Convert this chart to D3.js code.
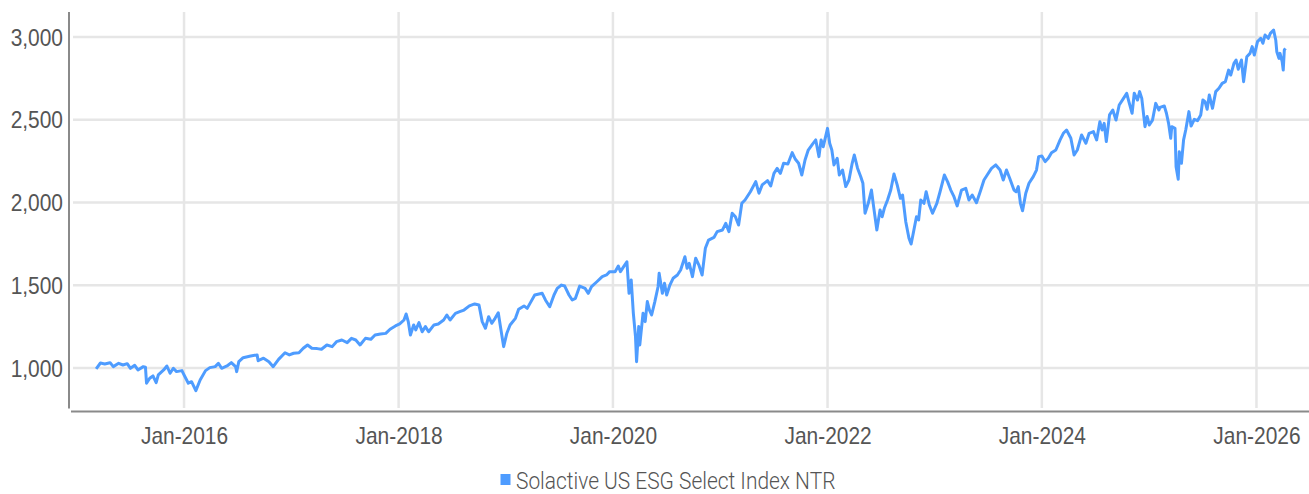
<!DOCTYPE html>
<html>
<head>
<meta charset="utf-8">
<title>Solactive US ESG Select Index NTR</title>
<style>
  body { margin: 0; background: #fff; }
  svg { display: block; font-family: Roboto, "Open Sans", sans-serif; }
  .grid line { stroke: #e6e6e6; stroke-width: 2.5px; }
  .axis-line { stroke: #8a8a8a; stroke-width: 2px; }
  .tick text, .legend text { fill: #555; font-size: 23px; font-weight: 300; }
  .line { fill: none; stroke: #4e9cff; stroke-width: 3px; stroke-linejoin: round; }
</style>
</head>
<body>
<svg width="1309" height="494"></svg>

<script src="https://d3js.org/d3.v7.min.js"></script>
<script>
// values (decimal year, index level)
const years = [
  2015.18, 2015.22, 2015.26, 2015.31, 2015.34, 2015.39, 2015.43, 2015.47, 2015.50, 2015.54,
  2015.57, 2015.62, 2015.64, 2015.65, 2015.68, 2015.71, 2015.74, 2015.76, 2015.81, 2015.84,
  2015.87, 2015.90, 2015.93, 2015.98, 2016.00, 2016.04, 2016.07, 2016.11, 2016.15, 2016.20,
  2016.24, 2016.29, 2016.32, 2016.35, 2016.40, 2016.44, 2016.48, 2016.49, 2016.51, 2016.55,
  2016.62, 2016.68, 2016.69, 2016.74, 2016.79, 2016.83, 2016.88, 2016.94, 2016.98, 2017.02,
  2017.07, 2017.11, 2017.15, 2017.19, 2017.24, 2017.28, 2017.33, 2017.38, 2017.42, 2017.47,
  2017.52, 2017.56, 2017.60, 2017.64, 2017.69, 2017.74, 2017.78, 2017.83, 2017.88, 2017.92,
  2017.97, 2018.01, 2018.05, 2018.07, 2018.09, 2018.11, 2018.14, 2018.16, 2018.19, 2018.22,
  2018.25, 2018.28, 2018.33, 2018.37, 2018.42, 2018.45, 2018.48, 2018.53, 2018.57, 2018.61,
  2018.66, 2018.71, 2018.75, 2018.78, 2018.81, 2018.84, 2018.87, 2018.90, 2018.93, 2018.95,
  2018.98, 2019.01, 2019.04, 2019.09, 2019.12, 2019.17, 2019.20, 2019.23, 2019.27, 2019.34,
  2019.37, 2019.41, 2019.45, 2019.48, 2019.52, 2019.55, 2019.59, 2019.62, 2019.65, 2019.69,
  2019.74, 2019.77, 2019.80, 2019.85, 2019.90, 2019.94, 2019.97, 2020.02, 2020.05, 2020.07,
  2020.10, 2020.13, 2020.15, 2020.17, 2020.19, 2020.21, 2020.22, 2020.24, 2020.25, 2020.28,
  2020.30, 2020.32, 2020.34, 2020.36, 2020.39, 2020.42, 2020.43, 2020.46, 2020.48, 2020.50,
  2020.53, 2020.56, 2020.60, 2020.63, 2020.67, 2020.69, 2020.71, 2020.74, 2020.77, 2020.80,
  2020.83, 2020.86, 2020.89, 2020.94, 2020.97, 2021.02, 2021.05, 2021.08, 2021.11, 2021.14,
  2021.17, 2021.20, 2021.23, 2021.28, 2021.33, 2021.36, 2021.39, 2021.44, 2021.47, 2021.50,
  2021.53, 2021.56, 2021.59, 2021.63, 2021.67, 2021.70, 2021.73, 2021.76, 2021.79, 2021.82,
  2021.86, 2021.89, 2021.92, 2021.94, 2021.96, 2022.00, 2022.02, 2022.04, 2022.06, 2022.09,
  2022.11, 2022.14, 2022.17, 2022.20, 2022.23, 2022.25, 2022.28, 2022.31, 2022.33, 2022.35,
  2022.38, 2022.41, 2022.43, 2022.46, 2022.49, 2022.51, 2022.53, 2022.56, 2022.59, 2022.62,
  2022.65, 2022.68, 2022.70, 2022.73, 2022.76, 2022.78, 2022.80, 2022.83, 2022.85, 2022.87,
  2022.90, 2022.92, 2022.95, 2022.98, 2023.02, 2023.05, 2023.09, 2023.12, 2023.15, 2023.18,
  2023.21, 2023.25, 2023.29, 2023.32, 2023.35, 2023.39, 2023.43, 2023.46, 2023.49, 2023.53,
  2023.57, 2023.61, 2023.64, 2023.67, 2023.70, 2023.74, 2023.76, 2023.78, 2023.80, 2023.82,
  2023.85, 2023.88, 2023.92, 2023.95, 2023.97, 2024.00, 2024.03, 2024.06, 2024.09, 2024.13,
  2024.17, 2024.20, 2024.23, 2024.27, 2024.30, 2024.33, 2024.37, 2024.41, 2024.44, 2024.48,
  2024.51, 2024.54, 2024.56, 2024.58, 2024.60, 2024.63, 2024.66, 2024.69, 2024.72, 2024.76,
  2024.79, 2024.81, 2024.84, 2024.86, 2024.89, 2024.91, 2024.93, 2024.96, 2024.98, 2025.00,
  2025.03, 2025.06, 2025.09, 2025.10, 2025.14, 2025.16, 2025.18, 2025.20, 2025.21, 2025.24,
  2025.25, 2025.27, 2025.28, 2025.30, 2025.32, 2025.34, 2025.37, 2025.39, 2025.42, 2025.45,
  2025.48, 2025.50, 2025.52, 2025.54, 2025.56, 2025.59, 2025.62, 2025.65, 2025.68, 2025.71,
  2025.74, 2025.76, 2025.79, 2025.81, 2025.83, 2025.86, 2025.88, 2025.91, 2025.94, 2025.96,
  2025.98, 2026.01, 2026.04, 2026.06, 2026.08, 2026.11, 2026.13, 2026.16, 2026.18, 2026.19,
  2026.21, 2026.22, 2026.24, 2026.25, 2026.26, 2026.27
];
const values = [
   995, 1030, 1024, 1032, 1008, 1028, 1018, 1026,  998, 1016,
   988, 1008, 1005,  908,  938,  952,  911,  958,  988, 1012,
   968,  998,  978,  984,  958,  908,  917,  863,  927,  984,
  1002, 1008, 1028,  998, 1012, 1032, 1008,  978, 1038, 1062,
  1072, 1079, 1044, 1059, 1038, 1008, 1052, 1092, 1079, 1089,
  1092, 1119, 1139, 1119, 1117, 1113, 1139, 1129, 1159, 1169,
  1153, 1179, 1169, 1139, 1179, 1173, 1199, 1205, 1209, 1234,
  1254, 1266, 1290, 1326, 1280, 1199, 1260, 1230, 1274, 1219,
  1250, 1219, 1260, 1266, 1290, 1320, 1290, 1330, 1340, 1350,
  1375, 1387, 1381, 1280, 1240, 1310, 1270, 1300, 1334, 1250,
  1129, 1210, 1260, 1300, 1355, 1375, 1360, 1395, 1441, 1451,
  1411, 1370, 1441, 1481, 1501, 1495, 1441, 1411, 1421, 1495,
  1481, 1451, 1491, 1521, 1552, 1562, 1582, 1582, 1616, 1582,
  1612, 1642, 1451, 1532, 1330, 1189, 1038, 1250, 1139, 1330,
  1280, 1401, 1350, 1320, 1401, 1491, 1572, 1451, 1512, 1441,
  1501, 1542, 1562, 1592, 1672, 1602, 1632, 1552, 1663, 1622,
  1562, 1723, 1773, 1789, 1824, 1834, 1874, 1824, 1935, 1914,
  1864, 1995, 2015, 2065, 2126, 2056, 2106, 2132, 2100, 2176,
  2206, 2176, 2237, 2233, 2301, 2261, 2237, 2166, 2257, 2317,
  2353, 2378, 2277, 2378, 2337, 2448, 2358, 2317, 2227, 2267,
  2166, 2196, 2096, 2136, 2237, 2287, 2207, 2156, 2116, 1935,
  1995, 2075, 1975, 1834, 1955, 1914, 1965, 2015, 2075, 2172,
  2106, 2025, 2045, 1884, 1784, 1749, 1814, 1914, 1894, 2015,
  1995, 2065, 1985, 1935, 1995, 2065, 2166, 2126, 2075, 2035,
  1979, 2075, 2085, 2015, 2045, 1999, 2075, 2136, 2166, 2206,
  2227, 2196, 2136, 2196, 2146, 2075, 2065, 2096, 1995, 1950,
  2056, 2116, 2156, 2196, 2277, 2281, 2247, 2267, 2301, 2317,
  2378, 2418, 2438, 2388, 2287, 2317, 2408, 2358, 2418, 2428,
  2378, 2488, 2438, 2478, 2368, 2529, 2559, 2498, 2589, 2629,
  2660, 2609, 2539, 2660, 2619, 2670, 2629, 2458, 2519, 2468,
  2498, 2599, 2559, 2575, 2583, 2539, 2478, 2388, 2458, 2448,
  2216, 2140, 2307, 2237, 2378, 2438, 2549, 2462, 2502, 2494,
  2529, 2619, 2609, 2563, 2649, 2569, 2670, 2690, 2720, 2730,
  2800, 2770, 2841, 2861, 2805, 2861, 2730, 2881, 2901, 2942,
  2891, 2972, 2992, 2962, 3012, 2992, 3022, 3042, 2982, 2911,
  2871, 2901, 2851, 2800, 2921, 2931
];
const yTicks = [1000, 1500, 2000, 2500, 3000];
const xTicks = [2016, 2018, 2020, 2022, 2024, 2026];
const seriesName = "Solactive US ESG Select Index NTR";

const toDate = t => {
  const yr = Math.floor(t);
  const a = Date.UTC(yr, 0, 1), b = Date.UTC(yr + 1, 0, 1);
  return new Date(a + (t - yr) * (b - a));
};
const data = years.map((t, i) => ({ date: toDate(t), value: values[i] }));

const svg = d3.select("svg");
const sx = 0.91; // narrow the glyphs a bit, the original face is condensed

const x = d3.scaleUtc()
  .domain([new Date(Date.UTC(2014, 11, 12)), new Date(Date.UTC(2026, 5, 29))])
  .range([71, 1309]);
const y = d3.scaleLinear().domain([740, 3151]).range([411, 12]);

// gridlines
svg.append("g").attr("class", "grid")
  .selectAll("line").data(yTicks).join("line")
  .attr("x1", 73).attr("x2", 1309)
  .attr("y1", d => y(d)).attr("y2", d => y(d));
svg.append("g").attr("class", "grid")
  .selectAll("line").data(xTicks).join("line")
  .attr("x1", d => x(toDate(d))).attr("x2", d => x(toDate(d)))
  .attr("y1", 12).attr("y2", 408);

// series
svg.append("path")
  .datum(data)
  .attr("class", "line")
  .attr("d", d3.line().x(d => x(d.date)).y(d => y(d.value)));

// y axis
const yAxis = svg.append("g")
  .attr("transform", "translate(69,0)")
  .call(d3.axisLeft(y).tickValues(yTicks).tickFormat(d3.format(",")).tickSize(0));
yAxis.select(".domain").remove();
yAxis.selectAll("text")
  .attr("font-family", null).attr("font-size", null)
  .attr("transform", `scale(${sx},1)`)
  .attr("x", -6 / sx)
  .attr("dy", "0.35em");
svg.append("line").attr("class", "axis-line")
  .attr("x1", 69).attr("x2", 69).attr("y1", 12).attr("y2", 408.5);

// x axis
const xAxis = svg.append("g")
  .attr("transform", "translate(0,411.5)")
  .call(d3.axisBottom(x).tickValues(xTicks.map(toDate)).tickFormat(d3.utcFormat("%b-%Y")).tickSize(0));
xAxis.select(".domain").remove();
xAxis.selectAll("text")
  .attr("font-family", null).attr("font-size", null)
  .attr("transform", `scale(${sx},1)`)
  .attr("y", 32.5).attr("dy", "0");
svg.append("line").attr("class", "axis-line")
  .attr("x1", 71).attr("x2", 1309).attr("y1", 411.5).attr("y2", 411.5);

// legend
const legend = svg.append("g").attr("class", "legend");
legend.append("rect")
  .attr("x", 500.5).attr("y", 474).attr("width", 10).attr("height", 11)
  .attr("fill", "#4e9cff");
legend.append("text")
  .attr("transform", `translate(516,489) scale(${sx},1)`)
  .text(seriesName);
</script>
</body>
</html>
